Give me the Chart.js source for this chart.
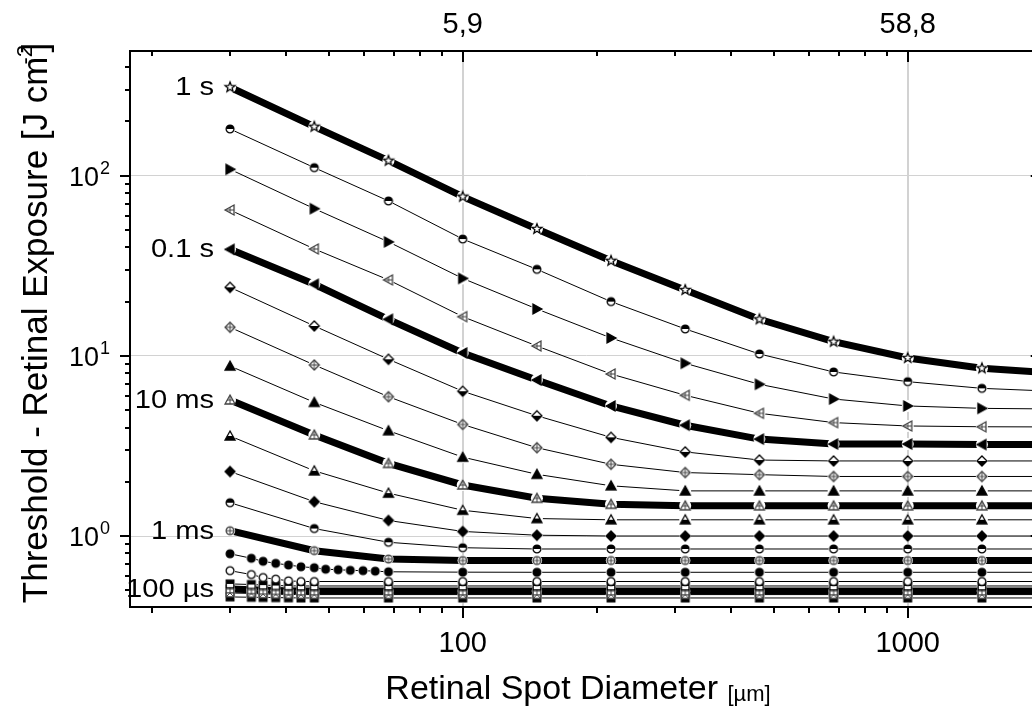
<!DOCTYPE html>
<html>
<head>
<meta charset="utf-8">
<script src="https://cdn.jsdelivr.net/npm/chart.js@4.4.0/dist/chart.umd.min.js"></script>
<style>
html,body{margin:0;padding:0;background:#fff;overflow:hidden;width:1032px;height:712px}
canvas{display:block}
</style>
</head>
<body>
<canvas id="c" width="1060" height="712" style="width:1060px;height:712px"></canvas>
<script>
// ---------- data ----------
const X_MAIN  = [30, 46.4, 68.1, 100, 146.8, 215.4, 316.2, 464.2, 681.3, 1000, 1467.8, 2154.4];
const X_FINE  = [30, 33.5, 35.6, 38.0, 40.6, 43.3, 46.4, 49.2, 52.5, 55.9, 59.7, 63.6, 68.1, 100, 146.8, 215.4, 316.2, 464.2, 681.3, 1000, 1467.8, 2154.4];
const X_SHORT = [30, 33.5, 35.6, 38.0, 40.6, 43.3, 46.4, 68.1, 100, 146.8, 215.4, 316.2, 464.2, 681.3, 1000, 1467.8, 2154.4];

const H_1S    = [309.6, 187, 121.1, 76.5, 50.6, 33.7, 23.2, 15.95, 11.98, 9.73, 8.53, 8.0];
const H_S2    = [181.6, 110.8, 72.4, 44.5, 30.2, 20.0, 14.1, 10.24, 8.14, 7.19, 6.60, 6.35];
const H_S3    = [108.5, 65.6, 42.9, 26.9, 18.2, 12.57, 9.09, 6.95, 5.76, 5.27, 5.11, 5.07];
const H_S4    = [64.5, 39.2, 26.4, 16.5, 11.34, 7.93, 6.04, 4.80, 4.26, 4.08, 4.04, 4.03];
const H_100MS = [39.0, 24.96, 15.95, 10.37, 7.34, 5.27, 4.12, 3.45, 3.24, 3.24, 3.22, 3.22];
const H_S6    = [24.0, 14.65, 9.57, 6.36, 4.65, 3.53, 2.93, 2.64, 2.61, 2.61, 2.61, 2.61];
const H_S7    = [14.4, 8.90, 5.93, 4.16, 3.09, 2.50, 2.25, 2.19, 2.14, 2.14, 2.14, 2.14];
const H_S8    = [8.78, 5.52, 3.84, 2.74, 2.20, 1.90, 1.78, 1.78, 1.78, 1.78, 1.78, 1.78];
const H_10MS  = [5.69, 3.64, 2.53, 1.92, 1.62, 1.50, 1.47, 1.47, 1.47, 1.47, 1.47, 1.47];
const H_S10   = [3.59, 2.30, 1.73, 1.39, 1.25, 1.23, 1.23, 1.23, 1.23, 1.23, 1.23, 1.23];
const H_S11   = [2.28, 1.55, 1.22, 1.06, 1.01, 1.0, 1.0, 1.0, 1.0, 1.0, 1.0, 1.0];
const H_S12   = [1.53, 1.10, 0.923, 0.861, 0.847, 0.847, 0.847, 0.847, 0.847, 0.847, 0.847, 0.847];
const H_1MS   = [1.07, 0.829, 0.745, 0.731, 0.731, 0.731, 0.731, 0.731, 0.731, 0.731, 0.731, 0.731];
const H_S14   = [0.797, 0.752, 0.724, 0.705, 0.690, 0.675, 0.667, 0.654, 0.650, 0.645, 0.642, 0.638, 0.633, 0.630, 0.629, 0.629, 0.629, 0.629, 0.629, 0.629, 0.629, 0.629];
const H_S15   = [0.642, 0.611, 0.588, 0.576, 0.564, 0.559, 0.559, 0.559, 0.559, 0.559, 0.559, 0.559, 0.559, 0.559, 0.559, 0.559, 0.559];
const H_S16   = [0.542, 0.538, 0.534, 0.531, 0.529, 0.528, 0.528, 0.528, 0.528, 0.528, 0.528, 0.528, 0.528, 0.528, 0.528, 0.528, 0.528];
const H_100US = [0.508, 0.503, 0.500, 0.498, 0.496, 0.495, 0.495, 0.495, 0.495, 0.495, 0.495, 0.495, 0.495, 0.495, 0.495, 0.495, 0.495];
const H_S18   = [0.483, 0.480, 0.477, 0.475, 0.474, 0.473, 0.473, 0.473, 0.473, 0.473, 0.473, 0.473, 0.473, 0.473, 0.473, 0.473, 0.473];
const H_S19   = [0.459, 0.457, 0.456, 0.455, 0.454, 0.453, 0.453, 0.453, 0.453, 0.453, 0.453, 0.453, 0.453, 0.453, 0.453, 0.453, 0.453];

const ANNOT_TEXT   = ['1 s', '0.1 s', '10 ms', '1 ms', '100 \u00b5s'];
const ANNOT_SERIES = [0, 4, 8, 12, 16];
const TOP_TICK_VALUES = [100, 1000];
const TOP_TICK_TEXT   = ['5,9', '58,8'];

const X_MIN = 17.88, X_MAX = 2000, Y_MIN = 0.4036, Y_MAX = 492;

// ---------- series styling ----------
const SERIES = [
  {x: X_MAIN,  y: H_1S,    m: ['star', 'open'],      w: 7},
  {x: X_MAIN,  y: H_S2,    m: ['circle', 'top'],     w: 1},
  {x: X_MAIN,  y: H_S3,    m: ['triR', 'fill'],      w: 1},
  {x: X_MAIN,  y: H_S4,    m: ['triL', 'cross'],     w: 1},
  {x: X_MAIN,  y: H_100MS, m: ['triL', 'fill'],      w: 7},
  {x: X_MAIN,  y: H_S6,    m: ['diamond', 'bottom'], w: 1},
  {x: X_MAIN,  y: H_S7,    m: ['diamond', 'cross'],  w: 1},
  {x: X_MAIN,  y: H_S8,    m: ['triU', 'fill'],      w: 1},
  {x: X_MAIN,  y: H_10MS,  m: ['triU', 'cross'],     w: 7},
  {x: X_MAIN,  y: H_S10,   m: ['triU', 'bottom'],    w: 1},
  {x: X_MAIN,  y: H_S11,   m: ['diamond', 'fill'],   w: 1},
  {x: X_MAIN,  y: H_S12,   m: ['circle', 'top'],     w: 1},
  {x: X_MAIN,  y: H_1MS,   m: ['circle', 'cross'],   w: 7},
  {x: X_FINE,  y: H_S14,   m: ['circle', 'fill'],    w: 1},
  {x: X_SHORT, y: H_S15,   m: ['circle', 'open'],    w: 1},
  {x: X_SHORT, y: H_S16,   m: ['square', 'top'],     w: 1},
  {x: X_SHORT, y: H_100US, m: ['square', 'cross'],   w: 7},
  {x: X_SHORT, y: H_S18,   m: ['square', 'x'],       w: 1},
  {x: X_SHORT, y: H_S19,   m: ['square', 'fill'],    w: 1}
];

function makeMarker(shape, mode) {
  const S = 16, c = document.createElement('canvas');
  c.width = S; c.height = S;
  const g = c.getContext('2d');
  g.translate(S / 2, S / 2);
  const col = (mode === 'cross' || mode === 'x') ? '#404040' : '#000';
  const P = {
    triU: [[0, -5], [5, 4], [-5, 4]],
    triL: [[-5, 0], [4, -5], [4, 5]],
    triR: [[5, 0], [-4, -5], [-4, 5]],
    diamond: [[0, -5], [5, 0], [0, 5], [-5, 0]],
    square: [[-3.8, -3.8], [3.8, -3.8], [3.8, 3.8], [-3.8, 3.8]]
  };
  const path = () => {
    g.beginPath();
    if (shape === 'circle') g.arc(0, 0, 3.9, 0, Math.PI * 2);
    else if (shape === 'star') {
      for (let i = 0; i < 10; i++) {
        const r = i % 2 ? 2.2 : 5.2, an = -Math.PI / 2 + i * Math.PI / 5;
        const px = r * Math.cos(an), py = r * Math.sin(an);
        if (i) g.lineTo(px, py); else g.moveTo(px, py);
      }
    } else P[shape].forEach((p, i) => i ? g.lineTo(p[0], p[1]) : g.moveTo(p[0], p[1]));
    g.closePath();
  };
  path(); g.fillStyle = mode === 'fill' ? col : '#fff'; g.fill();
  if (mode === 'top' || mode === 'bottom') {
    g.save(); path(); g.clip(); g.fillStyle = col;
    g.fillRect(-8, mode === 'top' ? -8 : 0, 16, 8); g.restore();
  }
  if (mode === 'cross' || mode === 'x') {
    g.save(); path(); g.clip(); g.beginPath();
    if (mode === 'cross') { g.moveTo(-8, 0); g.lineTo(8, 0); g.moveTo(0, -8); g.lineTo(0, 8); }
    else { g.moveTo(-8, -8); g.lineTo(8, 8); g.moveTo(8, -8); g.lineTo(-8, 8); }
    g.strokeStyle = col; g.lineWidth = 1; g.stroke(); g.restore();
  }
  path(); g.strokeStyle = col; g.lineWidth = 1.3; g.stroke();
  return c;
}

const HALO = {star: 6, circle: 5.2, triU: 6, triL: 6, triR: 6, diamond: 6, square: 5.2};

const datasets = [];
SERIES.forEach((s, i) => {
  const pts = s.x.map((x, j) => ({x: x, y: s.y[j]}));
  datasets.push({data: pts, borderColor: '#000', borderWidth: s.w, pointRadius: 0,
    fill: false, tension: 0, borderCapStyle: 'butt', order: 3});
  datasets.push({data: pts, showLine: false, pointStyle: 'circle', pointRadius: HALO[s.m[0]],
    pointBackgroundColor: '#fff', pointBorderWidth: 0, pointBorderColor: '#fff', order: 2});
  datasets.push({data: pts, showLine: false, pointStyle: makeMarker(s.m[0], s.m[1]), pointRadius: 5, order: 1});
});

function logTicks(min, max) {
  const out = [];
  for (let e = -2; e <= 4; e++) for (let m = 1; m <= 9; m++) {
    const v = parseFloat((m * Math.pow(10, e)).toPrecision(6));
    if (v >= min && v <= max) out.push({value: v, major: m === 1});
  }
  return out;
}

const FONT = "'Liberation Sans', Arial, Helvetica, sans-serif";

function txt(ctx, s, x, y, size, align, sx) {
  ctx.save();
  ctx.font = size + 'px ' + FONT;
  ctx.textAlign = align; ctx.textBaseline = 'alphabetic';
  ctx.translate(x, y); ctx.scale(sx || 1, 1);
  ctx.fillText(s, 0, 0);
  ctx.restore();
}

const decor = {
  id: 'decor',
  afterDraw(chart) {
    const ctx = chart.ctx, a = chart.chartArea, xs = chart.scales.x, ys = chart.scales.y;
    ctx.save();
    ctx.strokeStyle = '#000'; ctx.lineWidth = 2; ctx.lineCap = 'butt';
    ctx.beginPath();
    xs.ticks.forEach(t => {
      const px = Math.round(xs.getPixelForValue(t.value));
      ctx.moveTo(px, a.bottom); ctx.lineTo(px, a.bottom + (t.major ? 11 : 6));
      ctx.moveTo(px, a.top); ctx.lineTo(px, a.top + (t.major ? 11 : 5));
    });
    ys.ticks.forEach(t => {
      const py = Math.round(ys.getPixelForValue(t.value));
      ctx.moveTo(a.left, py); ctx.lineTo(a.left - (t.major ? 10 : 5), py);
      ctx.moveTo(a.right, py); ctx.lineTo(a.right - (t.major ? 11 : 5), py);
    });
    ctx.stroke();
    ctx.fillStyle = '#000';

    // y tick labels 10^n
    ys.ticks.filter(t => t.major).forEach(t => {
      const py = ys.getPixelForValue(t.value);
      const e = Math.round(Math.log10(t.value));
      txt(ctx, '10', 99, py + 10, 27, 'right');
      txt(ctx, String(e), 100, py - 2, 18, 'left');
    });
    // bottom x labels
    xs.ticks.filter(t => t.major).forEach(t => {
      txt(ctx, String(t.value), xs.getPixelForValue(t.value), 652, 29, 'center');
    });
    // top x labels
    TOP_TICK_VALUES.forEach((v, i) => {
      txt(ctx, TOP_TICK_TEXT[i], xs.getPixelForValue(v), 33, 29, 'center');
    });
    // series annotations
    ANNOT_TEXT.forEach((s, i) => {
      const ser = SERIES[ANNOT_SERIES[i]];
      const py = ys.getPixelForValue(ser.y[0]);
      const px = xs.getPixelForValue(ser.x[0]) - 16;
      txt(ctx, s, px, py + 8, 26, 'right', 1.12);
    });

    // x title
    ctx.font = '34px ' + FONT;
    const t1 = 'Retinal Spot Diameter ';
    const w1 = ctx.measureText(t1).width;
    ctx.font = '22px ' + FONT;
    const t2 = '[\u00b5m]';
    const w2 = ctx.measureText(t2).width;
    const x0 = 578 - (w1 + w2) / 2;
    txt(ctx, t1, x0, 699, 34, 'left');
    txt(ctx, t2, x0 + w1, 701, 22, 'left');

    // y title (rotated)
    ctx.save();
    ctx.translate(47, 323);
    ctx.rotate(-Math.PI / 2);
    ctx.font = '35px ' + FONT;
    const y1 = 'Threshold - Retinal Exposure [J cm';
    const wy1 = ctx.measureText(y1).width;
    const wy3 = ctx.measureText(']').width;
    const tot = wy1 + wy3 + 4;
    const s0 = -tot / 2;
    ctx.textBaseline = 'alphabetic'; ctx.textAlign = 'left';
    ctx.fillText(y1, s0, 0);
    ctx.fillText(']', s0 + wy1 + 4, 0);
    ctx.font = '22px ' + FONT;
    ctx.fillText('-2', s0 + wy1 - 8, -15);
    ctx.restore();

    ctx.restore();
  }
};

const gridCol = c => (c.tick && c.tick.major) ? '#d2d2d2' : 'rgba(0,0,0,0)';

new Chart(document.getElementById('c').getContext('2d'), {
  type: 'line',
  data: {datasets: datasets},
  options: {
    responsive: false,
    animation: false,
    events: [],
    layout: {padding: 0, autoPadding: false},
    plugins: {legend: {display: false}, tooltip: {enabled: false}, title: {display: false}},
    scales: {
      x: {
        type: 'logarithmic', axis: 'x', position: 'bottom', min: X_MIN, max: X_MAX, bounds: 'data',
        afterBuildTicks: s => { s.ticks = logTicks(X_MIN, X_MAX); },
        afterFit: s => { s.height = 105; },
        ticks: {display: false},
        grid: {color: gridCol, lineWidth: 2, drawTicks: false},
        border: {display: true, color: '#000', width: 2}
      },
      xTop: {
        type: 'logarithmic', axis: 'x', position: 'top', min: X_MIN, max: X_MAX, bounds: 'data',
        afterBuildTicks: s => { s.ticks = logTicks(X_MIN, X_MAX); },
        afterFit: s => { s.height = 51; },
        ticks: {display: false},
        grid: {display: false, drawTicks: false},
        border: {display: true, color: '#000', width: 2}
      },
      y: {
        type: 'logarithmic', axis: 'y', position: 'left', min: Y_MIN, max: Y_MAX, bounds: 'data',
        afterBuildTicks: s => { s.ticks = logTicks(Y_MIN, Y_MAX); },
        afterFit: s => { s.width = 130; },
        ticks: {display: false},
        grid: {color: gridCol, lineWidth: 1, drawTicks: false},
        border: {display: true, color: '#000', width: 2}
      },
      yRight: {
        type: 'logarithmic', axis: 'y', position: 'right', min: Y_MIN, max: Y_MAX, bounds: 'data',
        afterBuildTicks: s => { s.ticks = logTicks(Y_MIN, Y_MAX); },
        afterFit: s => { s.width = 18.3; },
        ticks: {display: false},
        grid: {display: false, drawTicks: false},
        border: {display: true, color: '#000', width: 2}
      }
    }
  },
  plugins: [decor]
});
</script>
</body>
</html>
